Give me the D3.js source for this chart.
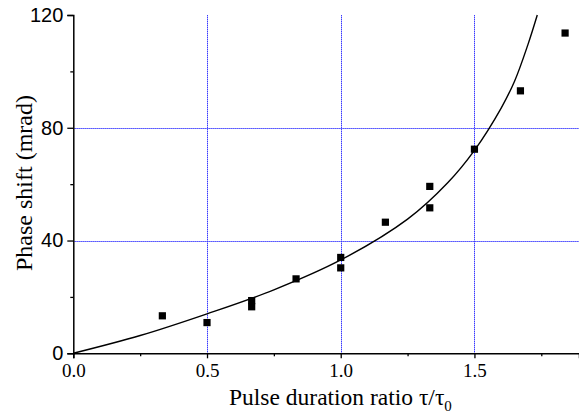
<!DOCTYPE html>
<html>
<head>
<meta charset="utf-8">
<script src="https://cdn.jsdelivr.net/npm/d3@7"></script>
<style>
  body { margin: 0; background: #fff; }
  svg { display: block; }
</style>
</head>
<body>
<div id="chart"></div>
<script>
// measured points (pulse duration ratio, phase shift in mrad)
const ratio = [0.333, 0.5, 0.667, 0.667, 0.833, 1.0, 1.0, 1.167, 1.333, 1.333, 1.5, 1.672, 1.839];
const phase = [13.3, 10.9, 18.7, 16.5, 26.4, 34.0, 30.3, 46.5, 59.2, 51.6, 72.4, 93.1, 113.6];

// fitted curve
const fitX = [0, 0.25, 0.5, 0.75, 1.0, 1.25, 1.4, 1.5, 1.6, 1.65, 1.7, 1.735];
const fitY = [0, 6.3, 14.0, 22.5, 33.1, 47.6, 60.5, 72.0, 87.0, 96.5, 109.5, 120];

const xMajor = [0, 0.5, 1.0, 1.5];
const xMinor = [0.25, 0.75, 1.25, 1.75];
const yMajor = [0, 40, 80, 120];
const yMinor = [20, 60, 100];
const xGrid = [0.5, 1.0, 1.5];
const yGrid = [40, 80];

const width = 579, height = 413;
const margin = {top: 15, right: 0, bottom: 59, left: 73.3};

const svg = d3.select("#chart").append("svg")
    .attr("width", width).attr("height", height);

const x = d3.scaleLinear().domain([0, 1.891]).range([margin.left, width]);
const y = d3.scaleLinear().domain([0, 120]).range([height - margin.bottom - 0.7, margin.top]);

// --- grid: pale blue line with blue dots on top ---
function drawGrid(stroke, dash) {
  const g = svg.append("g")
      .attr("stroke", stroke).attr("stroke-width", 1)
      .attr("stroke-dasharray", dash);
  g.selectAll("line.v").data(xGrid).join("line")
      .attr("class", "v")
      .attr("x1", d => Math.round(x(d)) + 0.5).attr("x2", d => Math.round(x(d)) + 0.5)
      .attr("y1", y(120)).attr("y2", y(0));
  g.selectAll("line.h").data(yGrid).join("line")
      .attr("class", "h")
      .attr("x1", x(0)).attr("x2", width)
      .attr("y1", d => Math.round(y(d)) + 0.5).attr("y2", d => Math.round(y(d)) + 0.5);
}
drawGrid("#a8a8ff", null);
drawGrid("#3a3aff", "1,1");

// --- axes ---
const xAxis = svg.append("g").attr("transform", `translate(0,${y(0)})`)
    .call(d3.axisBottom(x).tickValues(xMajor).tickSize(5).tickPadding(5)
        .tickFormat(d3.format(".1f")));
svg.append("g").attr("transform", `translate(0,${y(0)})`)
    .call(d3.axisBottom(x).tickValues(xMinor).tickSize(3).tickFormat(""))
    .select(".domain").remove();

const yAxis = svg.append("g").attr("transform", `translate(${x(0)},0)`)
    .call(d3.axisLeft(y).tickValues(yMajor).tickSize(6).tickPadding(4));
svg.append("g").attr("transform", `translate(${x(0)},0)`)
    .call(d3.axisLeft(y).tickValues(yMinor).tickSize(3).tickFormat(""))
    .select(".domain").remove();

svg.selectAll(".domain").attr("stroke-width", 1.5);
svg.selectAll(".tick line").attr("stroke-width", 1.3);

xAxis.selectAll("text")
    .style("font-family", "'Liberation Serif', 'Times New Roman', serif")
    .style("font-size", "19px").attr("fill", "#000");
yAxis.selectAll("text")
    .style("font-family", "'Liberation Sans', Arial, sans-serif")
    .style("font-size", "20px").attr("fill", "#000");

// --- fit curve ---
const fit = fitX.map((d, i) => [d, fitY[i]]);
svg.append("path")
    .datum(fit)
    .attr("fill", "none").attr("stroke", "#000").attr("stroke-width", 1.4)
    .attr("d", d3.line().x(d => x(d[0])).y(d => y(d[1])).curve(d3.curveCatmullRom.alpha(0.5)));

// --- data points ---
const s = 7.2;
svg.append("g").selectAll("rect")
    .data(ratio.map((d, i) => [d, phase[i]]))
    .join("rect")
    .attr("x", d => x(d[0]) - s / 2).attr("y", d => y(d[1]) - s / 2)
    .attr("width", s).attr("height", s).attr("fill", "#000");

// --- axis titles ---
const serif = "'Liberation Serif', 'Times New Roman', serif";
const xt = svg.append("text")
    .attr("x", 229).attr("y", 405)
    .style("font-family", serif).style("font-size", "23.5px");
xt.append("tspan").text("Pulse duration ratio τ/τ");
xt.append("tspan").text("0").attr("dy", 6).style("font-size", "15px");

svg.append("text")
    .attr("transform", "translate(32,183) rotate(-90)")
    .attr("text-anchor", "middle")
    .style("font-family", serif).style("font-size", "24px")
    .text("Phase shift (mrad)");
</script>
</body>
</html>
